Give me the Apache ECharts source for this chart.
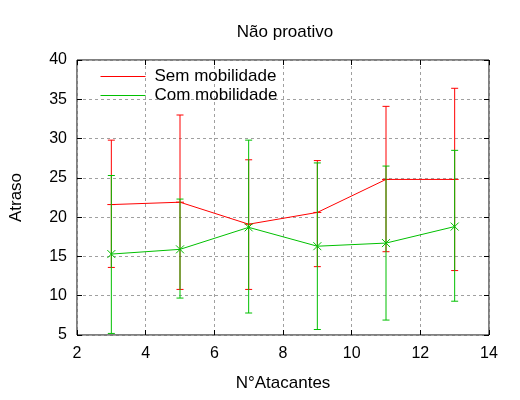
<!DOCTYPE html>
<html lang="pt">
<head>
    <meta charset="UTF-8">
    <title>Não proativo</title>
    <script src="https://cdn.jsdelivr.net/npm/echarts@6/dist/echarts.min.js"></script>
    <style>
        body { margin: 0; background: #fff; }
        #main { width: 520px; height: 400px; }
    </style>
</head>
<body>
<div id="main"></div>
<script>
    // dados
    let atacantes = [3, 5, 7, 9, 11, 13];
    let semMedia = [21.6, 21.9, 19.1, 20.6, 24.8, 24.8];
    let semMin = [13.6, 10.8, 10.8, 13.7, 15.6, 13.2];
    let semMax = [29.8, 33.0, 27.3, 27.2, 34.1, 36.4];
    let comMedia = [15.3, 15.9, 18.7, 16.3, 16.7, 18.8];
    let comMin = [5.2, 9.7, 7.8, 5.7, 6.9, 9.3];
    let comMax = [25.3, 22.3, 29.8, 26.9, 26.5, 28.5];
    let xTicks = [2, 14, 2];
    let yTicks = [5, 40, 5];

    const RED = '#ff0000';
    const GREEN = '#00c000';
    const FONT = 'Liberation Sans';

    let myChart = echarts.init(document.getElementById('main'));

    // barras de erro (e pontos) via custom series
    function errorSeries(name, media, mins, maxs, color, ponto) {
        let data = atacantes.map((x, i) => [x, media[i], mins[i], maxs[i]]);
        return {
            name: name,
            type: 'custom',
            color: color,
            data: data,
            z: 3,
            renderItem: function (params, api) {
                let x = api.value(0);
                let p = api.coord([x, api.value(1)]);
                let lo = api.coord([x, api.value(2)]);
                let hi = api.coord([x, api.value(3)]);
                let cap = 3.5;
                let style = {stroke: color, lineWidth: 1};
                let kids = [
                    {type: 'line', shape: {x1: lo[0], y1: lo[1], x2: hi[0], y2: hi[1]}, style: style},
                    {type: 'line', shape: {x1: lo[0] - cap, y1: lo[1], x2: lo[0] + cap, y2: lo[1]}, style: style},
                    {type: 'line', shape: {x1: hi[0] - cap, y1: hi[1], x2: hi[0] + cap, y2: hi[1]}, style: style}
                ];
                let s = 4;
                if (ponto === 'x') {
                    kids.push({type: 'line', shape: {x1: p[0] - s, y1: p[1] - s, x2: p[0] + s, y2: p[1] + s}, style: style});
                    kids.push({type: 'line', shape: {x1: p[0] - s, y1: p[1] + s, x2: p[0] + s, y2: p[1] - s}, style: style});
                } else {
                    kids.push({type: 'line', shape: {x1: p[0] - s, y1: p[1], x2: p[0] + s, y2: p[1]}, style: style});
                }
                return {type: 'group', children: kids};
            }
        };
    }

    let axisBase = {
        axisLine: {show: false},
        axisTick: {show: true, inside: true, length: 5, lineStyle: {color: '#000'}},
        splitLine: {show: false}
    };

    let option = {
        animation: false,
        title: {
            text: 'Não proativo',
            left: 280,
            top: 19,
            textAlign: 'center',
            textStyle: {fontFamily: FONT, fontSize: 17, fontWeight: 'normal', color: '#000'}
        },
        grid: {left: 75, right: 31, top: 60, bottom: 65, show: true, borderColor: '#000', borderWidth: 1},
        legend: {
            left: 95,
            top: 63,
            orient: 'vertical',
            itemWidth: 45,
            itemHeight: 14,
            itemGap: 2,
            itemStyle: {opacity: 0},
            lineStyle: {width: 1},
            textStyle: {fontFamily: FONT, fontSize: 17, color: '#000', padding: [0, 0, 0, 4]},
            data: ['Sem mobilidade', 'Com mobilidade']
        },
        xAxis: [
            Object.assign({}, axisBase, {
                type: 'value', min: xTicks[0], max: xTicks[1], interval: xTicks[2],
                name: 'N°Atacantes', nameLocation: 'middle', nameGap: 40,
                nameTextStyle: {fontFamily: FONT, fontSize: 17, color: '#000'},
                axisLabel: {fontFamily: FONT, fontSize: 16, color: '#000', margin: 11},
                splitLine: {show: true, lineStyle: {color: '#a0a0a0', type: [3, 3], width: 1}}
            }),
            Object.assign({}, axisBase, {
                type: 'value', position: 'top', min: xTicks[0], max: xTicks[1], interval: xTicks[2],
                axisLabel: {show: false}
            })
        ],
        yAxis: [
            Object.assign({}, axisBase, {
                type: 'value', min: yTicks[0], max: yTicks[1], interval: yTicks[2],
                name: 'Atraso', nameLocation: 'middle', nameGap: 52,
                nameTextStyle: {fontFamily: FONT, fontSize: 17, color: '#000'},
                axisLabel: {fontFamily: FONT, fontSize: 16, color: '#000', margin: 10},
                splitLine: {show: true, lineStyle: {color: '#a0a0a0', type: [3, 3], width: 1}}
            }),
            Object.assign({}, axisBase, {
                type: 'value', position: 'right', min: yTicks[0], max: yTicks[1], interval: yTicks[2],
                axisLabel: {show: false}
            })
        ],
        series: [
            {
                name: 'Sem mobilidade',
                type: 'line',
                data: atacantes.map((x, i) => [x, semMedia[i]]),
                symbol: 'none',
                color: RED,
                lineStyle: {width: 1, color: RED},
                z: 2
            },
            errorSeries('Sem mobilidade', semMedia, semMin, semMax, RED, '+'),
            {
                name: 'Com mobilidade',
                type: 'line',
                data: atacantes.map((x, i) => [x, comMedia[i]]),
                symbol: 'none',
                color: GREEN,
                lineStyle: {width: 1, color: GREEN},
                z: 4
            },
            errorSeries('Com mobilidade', comMedia, comMin, comMax, GREEN, 'x')
        ]
    };

    myChart.setOption(option);
</script>
</body>
</html>
